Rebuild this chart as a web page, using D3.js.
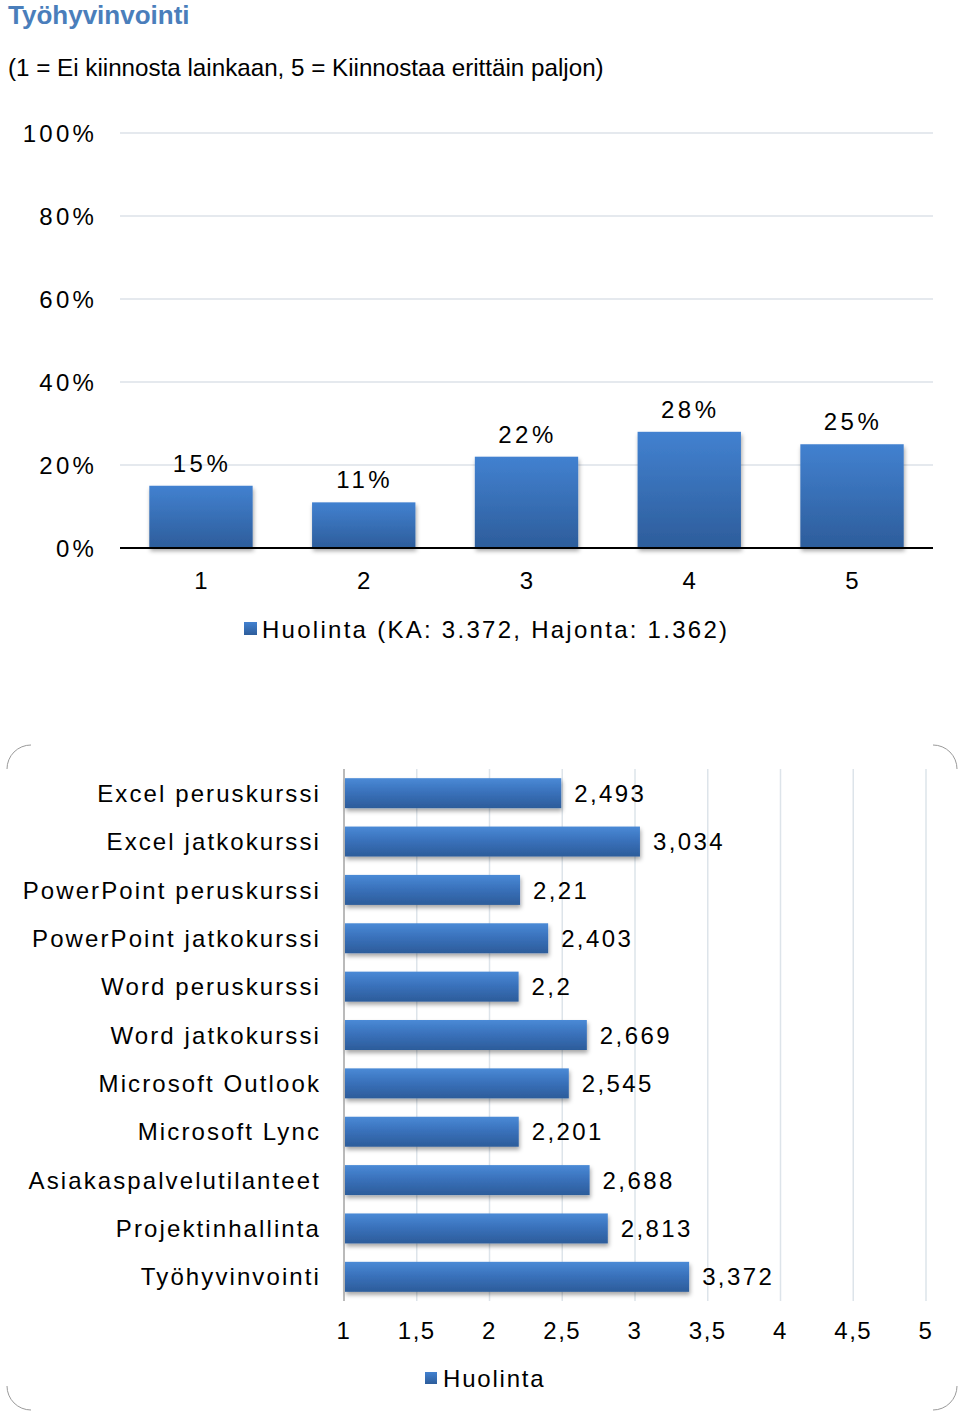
<!DOCTYPE html>
<html><head><meta charset="utf-8">
<script src="https://cdn.jsdelivr.net/npm/d3@7"></script>
<style>
html,body{margin:0;padding:0;background:#fff;}
svg{display:block;}
text{font-family:"Liberation Sans",Arial,sans-serif;}
</style></head>
<body>
<script>
// ---- Data ----
const title = "Työhyvinvointi";
const subtitle = "(1 = Ei kiinnosta lainkaan, 5 = Kiinnostaa erittäin paljon)";
const distCategories = ["1","2","3","4","5"];
const distValues = [0.15, 0.11, 0.22, 0.28, 0.25];
const distTicks = [0, 0.2, 0.4, 0.6, 0.8, 1.0];
const distLegend = "Huolinta (KA: 3.372, Hajonta: 1.362)";

const courseCategories = ["Excel peruskurssi","Excel jatkokurssi","PowerPoint peruskurssi","PowerPoint jatkokurssi","Word peruskurssi","Word jatkokurssi","Microsoft Outlook","Microsoft Lync","Asiakaspalvelutilanteet","Projektinhallinta","Työhyvinvointi"];
const courseValues = [2.493, 3.034, 2.21, 2.403, 2.2, 2.669, 2.545, 2.201, 2.688, 2.813, 3.372];
const courseTicks = [1, 1.5, 2, 2.5, 3, 3.5, 4, 4.5, 5];
const courseLegend = "Huolinta";

const W = 960, H = 1412;
const svg = d3.select("body").append("svg").attr("width", W).attr("height", H);
const defs = svg.append("defs");

const gv = defs.append("linearGradient").attr("id","gv").attr("x1",0).attr("y1",0).attr("x2",0).attr("y2",1);
gv.append("stop").attr("offset","0%").attr("stop-color","#4281d0");
gv.append("stop").attr("offset","100%").attr("stop-color","#2d5d9b");
const gh = defs.append("linearGradient").attr("id","gh").attr("x1",0).attr("y1",0).attr("x2",0).attr("y2",1);
gh.append("stop").attr("offset","0%").attr("stop-color","#4a8ad6");
gh.append("stop").attr("offset","45%").attr("stop-color","#3a72bc");
gh.append("stop").attr("offset","100%").attr("stop-color","#2c5c9a");
const sh = defs.append("filter").attr("id","sh").attr("x","-5%").attr("y","-20%").attr("width","115%").attr("height","160%");
sh.append("feDropShadow").attr("dx",1).attr("dy",3).attr("stdDeviation",2).attr("flood-color","#000").attr("flood-opacity",0.35);

const fmtComma = v => String(v).replace(".", ",");
const fs = 24;

// ---- Titles ----
svg.append("text").attr("x",8).attr("y",24).attr("font-size",26).attr("font-weight","bold")
  .attr("fill","#4a7ebb").text(title);
svg.append("text").attr("x",8).attr("y",76).attr("font-size",24.2).attr("fill","#000").text(subtitle);

// ---- Top chart ----
const x1 = d3.scaleBand().domain(distCategories).range([120, 933]).paddingInner(0.365).paddingOuter(0.18);
const y1 = d3.scaleLinear().domain([0,1]).range([548,133]);
const g1 = svg.append("g");
g1.selectAll("line.grid").data(distTicks.slice(1)).join("line")
  .attr("x1",120).attr("x2",933).attr("y1",d=>y1(d)).attr("y2",d=>y1(d))
  .attr("stroke","#dce2e8").attr("stroke-width",1.5);
g1.selectAll("text.yt").data(distTicks).join("text")
  .attr("x",97).attr("y",d=>y1(d)).attr("dy","0.36em").attr("text-anchor","end")
  .attr("font-size",fs).attr("letter-spacing","3.2px").attr("fill","#000")
  .text(d=>Math.round(d*100)+"%");
g1.selectAll("rect.bar").data(distValues).join("rect")
  .attr("x",(d,i)=>x1(distCategories[i])).attr("width",x1.bandwidth())
  .attr("y",d=>y1(d)).attr("height",d=>y1(0)-y1(d))
  .attr("fill","url(#gv)").attr("filter","url(#sh)");
g1.append("line").attr("x1",120).attr("x2",933).attr("y1",y1(0)).attr("y2",y1(0))
  .attr("stroke","#000").attr("stroke-width",2);
g1.selectAll("text.val").data(distValues).join("text")
  .attr("x",(d,i)=>x1(distCategories[i])+x1.bandwidth()/2+1).attr("y",d=>y1(d)-14)
  .attr("text-anchor","middle").attr("font-size",fs).attr("letter-spacing","3.5px")
  .text(d=>Math.round(d*100)+"%");
g1.selectAll("text.xt").data(distCategories).join("text")
  .attr("x",d=>x1(d)+x1.bandwidth()/2).attr("y",580).attr("dy","0.36em")
  .attr("text-anchor","middle").attr("font-size",fs).text(d=>d);
// legend
svg.append("rect").attr("x",244).attr("y",622).attr("width",13).attr("height",13).attr("fill","url(#gv)");
svg.append("text").attr("x",262).attr("y",629).attr("dy","0.36em").attr("font-size",fs)
  .attr("letter-spacing","2.27px").text(distLegend);

// ---- Bottom chart frame (only corners visible) ----
const fx0=7, fy0=745, fx1=957, fy1=1410, r=24;
const corner = `M${fx0},${fy0+r} A${r},${r} 0 0 1 ${fx0+r},${fy0}
 M${fx1-r},${fy0} A${r},${r} 0 0 1 ${fx1},${fy0+r}
 M${fx1},${fy1-r} A${r},${r} 0 0 1 ${fx1-r},${fy1}
 M${fx0+r},${fy1} A${r},${r} 0 0 1 ${fx0},${fy1-r}`;
svg.append("path").attr("d",corner).attr("fill","none").attr("stroke","#9a9a9a").attr("stroke-width",1);

// ---- Bottom chart ----
const x2 = d3.scaleLinear().domain([1,5]).range([344,926]);
const y2 = d3.scaleBand().domain(courseCategories).range([769,1301]).paddingInner(0.38).paddingOuter(0.19);
const g2 = svg.append("g");
g2.selectAll("line.vg").data(courseTicks.slice(1)).join("line")
  .attr("x1",d=>x2(d)).attr("x2",d=>x2(d)).attr("y1",769).attr("y2",1301)
  .attr("stroke","#dde4ea").attr("stroke-width",1.5);
g2.selectAll("rect.hb").data(courseValues).join("rect")
  .attr("x",x2(1)+1).attr("y",(d,i)=>y2(courseCategories[i]))
  .attr("width",d=>x2(d)-x2(1)-1).attr("height",y2.bandwidth())
  .attr("fill","url(#gh)").attr("filter","url(#sh)");
g2.append("line").attr("x1",x2(1)).attr("x2",x2(1)).attr("y1",769).attr("y2",1301)
  .attr("stroke","#8c8c8c").attr("stroke-width",1.2);
g2.selectAll("text.cat").data(courseCategories).join("text")
  .attr("x",321).attr("y",d=>y2(d)+y2.bandwidth()/2).attr("dy","0.36em")
  .attr("text-anchor","end").attr("font-size",fs).attr("letter-spacing","2.1px").text(d=>d);
g2.selectAll("text.v").data(courseValues).join("text")
  .attr("x",d=>x2(d)+13).attr("y",(d,i)=>y2(courseCategories[i])+y2.bandwidth()/2).attr("dy","0.36em")
  .attr("font-size",fs).attr("letter-spacing","2.4px").text(d=>fmtComma(d));
g2.selectAll("text.xt").data(courseTicks).join("text")
  .attr("x",d=>x2(d)).attr("y",1330).attr("dy","0.36em").attr("text-anchor","middle")
  .attr("font-size",fs).attr("letter-spacing","1.5px").text(d=>fmtComma(d));
svg.append("rect").attr("x",425).attr("y",1372).attr("width",12).attr("height",12).attr("fill","url(#gv)");
svg.append("text").attr("x",443).attr("y",1378).attr("dy","0.36em").attr("font-size",fs)
  .attr("letter-spacing","1.8px").text(courseLegend);
</script>
</body></html>
